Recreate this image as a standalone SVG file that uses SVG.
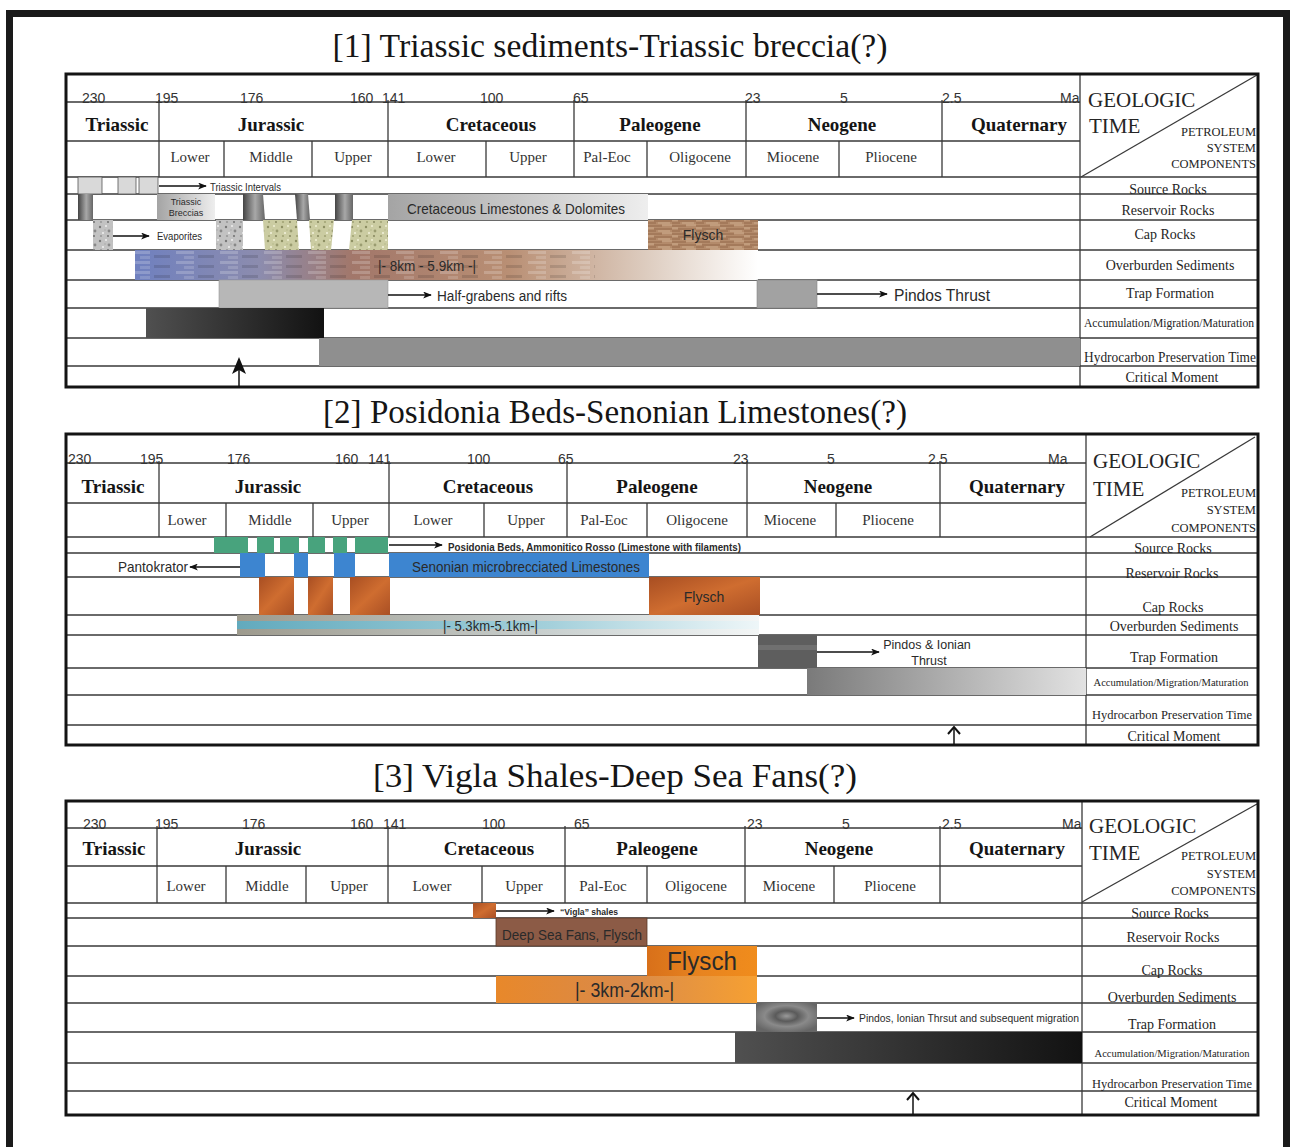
<svg xmlns="http://www.w3.org/2000/svg" width="1290" height="1147" viewBox="0 0 1290 1147">
<style>
.frame{fill:none;stroke:#141414;stroke-width:3}
.ln{stroke:#3a3a3a;stroke-width:1.3;fill:none}
.age{font-family:"Liberation Sans",Arial,sans-serif;font-size:14px;fill:#333}
.per{font-family:"Liberation Serif","Times New Roman",serif;font-weight:bold;font-size:19px;fill:#151515;text-anchor:middle}
.ep{font-family:"Liberation Serif","Times New Roman",serif;font-size:15px;fill:#333;text-anchor:middle}
.lab{font-family:"Liberation Serif","Times New Roman",serif;font-size:14px;fill:#252525;text-anchor:middle}
.geo{font-family:"Liberation Serif","Times New Roman",serif;font-size:21px;fill:#252525}
.psc{font-family:"Liberation Serif","Times New Roman",serif;font-size:12.5px;fill:#252525;text-anchor:end}
.title{font-family:"Liberation Serif","Times New Roman",serif;font-size:34px;fill:#151515;text-anchor:middle}
.sans{font-family:"Liberation Sans",Arial,sans-serif;fill:#2a2a2a}
.conn{stroke:#111;stroke-width:1.5;fill:none}
.bx{stroke:#555;stroke-width:0.8}
</style>
<defs>
<marker id="ah" viewBox="0 0 10 8" refX="9" refY="4" markerWidth="9" markerHeight="7" markerUnits="userSpaceOnUse" orient="auto"><path d="M0,0 L10,4 L0,8 L2.5,4 z" fill="#111"/></marker>
<pattern id="speck" width="14" height="14" patternUnits="userSpaceOnUse"><rect width="14" height="14" fill="#c2c2c2"/><circle cx="2" cy="3" r="1.2" fill="#777"/><circle cx="8" cy="2" r="1" fill="#eee"/><circle cx="11" cy="7" r="1.4" fill="#888"/><circle cx="5" cy="9" r="1" fill="#f0f0f0"/><circle cx="3" cy="12" r="1.1" fill="#999"/><circle cx="10" cy="12" r="0.9" fill="#666"/><circle cx="7" cy="6" r="0.8" fill="#aaa"/></pattern>
<pattern id="speckG" width="14" height="14" patternUnits="userSpaceOnUse"><rect width="14" height="14" fill="#cbcca2"/><circle cx="2" cy="3" r="1.2" fill="#8d8f62"/><circle cx="8" cy="2" r="1" fill="#efefd4"/><circle cx="11" cy="7" r="1.4" fill="#9a9c70"/><circle cx="5" cy="9" r="1" fill="#f2f2dc"/><circle cx="3" cy="12" r="1.1" fill="#a2a476"/><circle cx="10" cy="12" r="0.9" fill="#7d7f56"/><circle cx="7" cy="6" r="0.8" fill="#b5b78a"/></pattern>
<pattern id="wood" width="24" height="8" patternUnits="userSpaceOnUse"><rect width="24" height="8" fill="#b48b6b"/><path d="M0,2 H14 M6,5 H24 M0,7 H8" stroke="#94694a" stroke-width="1"/><path d="M14,1 H24 M0,4 H6 M10,7 H22" stroke="#cfae8e" stroke-width="1"/></pattern>
<pattern id="strip" width="44" height="10" patternUnits="userSpaceOnUse"><rect x="0" y="1" width="18" height="3" fill="#fff" opacity="0.2"/><rect x="22" y="5" width="16" height="3" fill="#000" opacity="0.12"/><rect x="8" y="6" width="10" height="3" fill="#fff" opacity="0.15"/></pattern>
<linearGradient id="cyl" x1="0" y1="0" x2="1" y2="0"><stop offset="0" stop-color="#444"/><stop offset="0.55" stop-color="#a8a8a8"/><stop offset="1" stop-color="#666"/></linearGradient>
<linearGradient id="lgray" x1="0" y1="0" x2="1" y2="0"><stop offset="0" stop-color="#a4a4a4"/><stop offset="1" stop-color="#eeeeee"/></linearGradient>
<linearGradient id="ob1" x1="0" y1="0" x2="1" y2="0"><stop offset="0" stop-color="#6f80bf"/><stop offset="0.2" stop-color="#8c8cae"/><stop offset="0.35" stop-color="#a2776a"/><stop offset="0.6" stop-color="#b98f74"/><stop offset="0.82" stop-color="#ddccbf"/><stop offset="1" stop-color="#ffffff"/></linearGradient>
<linearGradient id="acc1" x1="0" y1="0" x2="1" y2="0"><stop offset="0" stop-color="#505050"/><stop offset="1" stop-color="#121212"/></linearGradient>
<linearGradient id="ob2" x1="0" y1="0" x2="1" y2="0"><stop offset="0" stop-color="#9d9a8d"/><stop offset="0.6" stop-color="#c9d0cf"/><stop offset="1" stop-color="#f3f6f6"/></linearGradient>
<linearGradient id="ob2b" x1="0" y1="0" x2="1" y2="0"><stop offset="0" stop-color="#62aabd"/><stop offset="0.6" stop-color="#a4d0db"/><stop offset="1" stop-color="#eef6f8"/></linearGradient>
<linearGradient id="acc2" x1="0" y1="0" x2="1" y2="0"><stop offset="0" stop-color="#7a7a7a"/><stop offset="1" stop-color="#e2e2e2"/></linearGradient>
<linearGradient id="rust" x1="0" y1="0" x2="1" y2="1"><stop offset="0" stop-color="#a84e22"/><stop offset="0.5" stop-color="#cf6d30"/><stop offset="1" stop-color="#a94f24"/></linearGradient>
<linearGradient id="orng" x1="0" y1="0" x2="1" y2="0"><stop offset="0" stop-color="#d8701a"/><stop offset="0.5" stop-color="#e8841f"/><stop offset="1" stop-color="#f08c1c"/></linearGradient>
<linearGradient id="orng2" x1="0" y1="0" x2="1" y2="0"><stop offset="0" stop-color="#e8882a"/><stop offset="0.5" stop-color="#d98a4a"/><stop offset="1" stop-color="#f6a032"/></linearGradient>
<radialGradient id="swirl" cx="0.5" cy="0.45" r="0.6"><stop offset="0" stop-color="#9a9a9a"/><stop offset="0.3" stop-color="#5a5a5a"/><stop offset="0.6" stop-color="#8a8a8a"/><stop offset="1" stop-color="#666"/></radialGradient>
</defs>

<rect x="9.5" y="13.5" width="1277" height="1200" fill="#fff" stroke="#1a1a1a" stroke-width="7"/>

<!-- ============ PANEL 1 ============ -->
<g id="panel1">
<text class="title" x="610" y="57" textLength="555" lengthAdjust="spacingAndGlyphs">[1] Triassic sediments-Triassic breccia(?)</text>
<g id="p1-grid">
<path class="ln" d="M66,102H1080 M66,141H1080 M66,177H1258 M66,194H1258 M66,220H1258 M66,250H1258 M66,280H1258 M66,308H1258 M66,338H1258 M66,366H1258"/>
<path class="ln" d="M159,100V177 M388,100V177 M574,100V177 M746,100V177 M942,100V177 M224,141V177 M312,141V177 M486,141V177 M647,141V177 M839,141V177 M1080,74V387"/>
<path class="ln" d="M1081,177L1257,75"/>
</g>
<g id="p1-ages">
<text class="age" x="82" y="103">230</text><text class="age" x="155" y="103">195</text><text class="age" x="240" y="103">176</text><text class="age" x="350" y="103">160</text><text class="age" x="382" y="103">141</text><text class="age" x="480" y="103">100</text><text class="age" x="573" y="103">65</text><text class="age" x="745" y="103">23</text><text class="age" x="840" y="103">5</text><text class="age" x="942" y="103">2.5</text><text class="age" x="1060" y="103">Ma</text>
</g>
<g id="p1-periods">
<text class="per" x="117" y="131">Triassic</text><text class="per" x="271" y="131">Jurassic</text><text class="per" x="491" y="131">Cretaceous</text><text class="per" x="660" y="131">Paleogene</text><text class="per" x="842" y="131">Neogene</text><text class="per" x="1019" y="131">Quaternary</text>
<text class="ep" x="190" y="162">Lower</text><text class="ep" x="271" y="162">Middle</text><text class="ep" x="353" y="162">Upper</text><text class="ep" x="436" y="162">Lower</text><text class="ep" x="528" y="162">Upper</text><text class="ep" x="607" y="162">Pal-Eoc</text><text class="ep" x="700" y="162">Oligocene</text><text class="ep" x="793" y="162">Miocene</text><text class="ep" x="891" y="162">Pliocene</text>
</g>
<g id="p1-labels">
<text class="geo" x="1088" y="107">GEOLOGIC</text><text class="geo" x="1089" y="133">TIME</text>
<text class="psc" x="1256" y="136">PETROLEUM</text><text class="psc" x="1256" y="152">SYSTEM</text><text class="psc" x="1256" y="168">COMPONENTS</text>
<text class="lab" x="1168" y="194">Source Rocks</text>
<text class="lab" x="1168" y="215">Reservoir Rocks</text>
<text class="lab" x="1165" y="239">Cap Rocks</text>
<text class="lab" x="1170" y="270">Overburden Sediments</text>
<text class="lab" x="1170" y="298">Trap Formation</text>
<text class="lab" x="1169" y="327" style="font-size:12px" textLength="170" lengthAdjust="spacingAndGlyphs">Accumulation/Migration/Maturation</text>
<text class="lab" x="1170" y="362" textLength="172" lengthAdjust="spacingAndGlyphs">Hydrocarbon Preservation Time</text>
<text class="lab" x="1172" y="382">Critical Moment</text>
</g>
<g id="p1-source">
<rect class="bx" x="78" y="177" width="24" height="17" fill="#d9d9d9"/>
<rect class="bx" x="118" y="177" width="18" height="17" fill="#d9d9d9"/>
<rect class="bx" x="139" y="177" width="19" height="17" fill="#d9d9d9"/>
<text class="sans" x="210" y="191" font-size="10" textLength="71" lengthAdjust="spacingAndGlyphs">Triassic Intervals</text>
</g>
<g id="p1-reservoir">
<rect x="78" y="194" width="15" height="26" fill="url(#cyl)"/>
<rect x="157" y="194" width="58" height="26" fill="url(#lgray)"/>
<text class="sans" x="186" y="205" font-size="9" text-anchor="middle">Triassic</text>
<text class="sans" x="186" y="216" font-size="9" text-anchor="middle">Breccias</text>
<polygon points="243,194 263,194 265,220 243,220" fill="url(#cyl)"/>
<polygon points="295,194 308,194 310,220 297,220" fill="url(#cyl)"/>
<rect x="335" y="194" width="18" height="26" fill="url(#cyl)"/>
<rect x="388" y="194" width="260" height="26" fill="url(#lgray)"/>
<text class="sans" x="407" y="214" font-size="15" textLength="218" lengthAdjust="spacingAndGlyphs" fill="#333">Cretaceous Limestones &amp; Dolomites</text>
</g>
<g id="p1-cap">
<rect x="93" y="220" width="20" height="30" fill="url(#speck)"/>
<text class="sans" x="157" y="240" font-size="10" textLength="45" lengthAdjust="spacingAndGlyphs">Evaporites</text>
<rect x="216" y="220" width="27" height="30" fill="url(#speck)"/>
<polygon points="263,220 297,220 299,250 265,250" fill="url(#speckG)"/>
<polygon points="309,220 334,220 331,250 311,250" fill="url(#speckG)"/>
<polygon points="352,220 388,220 388,250 349,250" fill="url(#speckG)"/>
<rect x="648" y="220" width="110" height="30" fill="url(#wood)"/>
<text class="sans" x="703" y="240" font-size="14" text-anchor="middle" fill="#333">Flysch</text>
</g>
<g id="p1-overburden">
<rect x="135" y="250" width="623" height="30" fill="url(#ob1)"/>
<rect x="135" y="250" width="460" height="30" fill="url(#strip)"/>
<text class="sans" x="378" y="271" font-size="15" textLength="98" lengthAdjust="spacingAndGlyphs" fill="#222">|- 8km - 5.9km -|</text>
</g>
<g id="p1-trap">
<rect x="219" y="280" width="169" height="28" fill="#b7b7b7" stroke="#999" stroke-width="0.6"/>
<text class="sans" x="437" y="301" font-size="14" textLength="130" lengthAdjust="spacingAndGlyphs">Half-grabens and rifts</text>
<rect x="757" y="280" width="60" height="28" fill="#a2a2a2" stroke="#888" stroke-width="0.6"/>
<text class="sans" x="894" y="301" font-size="16" textLength="96" lengthAdjust="spacingAndGlyphs">Pindos Thrust</text>
</g>
<g id="p1-accum"><rect x="146" y="308" width="178" height="30" fill="url(#acc1)"/></g>
<g id="p1-hydro"><rect x="319" y="338" width="761" height="28" fill="#8f8f8f"/></g>
<g id="p1-critical"><polygon points="232,374 239,357 246,374 239,370" fill="#111"/></g>
<rect class="frame" x="66" y="74" width="1192" height="313"/>
</g>

<!-- ============ PANEL 2 ============ -->
<g id="panel2">
<text class="title" x="615" y="423" textLength="584" lengthAdjust="spacingAndGlyphs">[2] Posidonia Beds-Senonian Limestones(?)</text>
<g id="p2-grid">
<path class="ln" d="M66,463H1086 M66,503H1086 M66,537H1258 M66,553H1258 M66,577H1258 M66,615H1258 M66,635H1258 M66,668H1258 M66,695H1258 M66,725H1258"/>
<path class="ln" d="M159,461V537 M389,461V537 M567,461V537 M747,461V537 M940,461V537 M226,503V537 M313,503V537 M484,503V537 M647,503V537 M836,503V537 M1086,434V745"/>
<path class="ln" d="M1090,537L1255,437"/>
</g>
<g id="p2-ages">
<text class="age" x="68" y="464">230</text><text class="age" x="140" y="464">195</text><text class="age" x="227" y="464">176</text><text class="age" x="335" y="464">160</text><text class="age" x="368" y="464">141</text><text class="age" x="467" y="464">100</text><text class="age" x="558" y="464">65</text><text class="age" x="733" y="464">23</text><text class="age" x="827" y="464">5</text><text class="age" x="928" y="464">2.5</text><text class="age" x="1048" y="464">Ma</text>
</g>
<g id="p2-periods">
<text class="per" x="113" y="493">Triassic</text><text class="per" x="268" y="493">Jurassic</text><text class="per" x="488" y="493">Cretaceous</text><text class="per" x="657" y="493">Paleogene</text><text class="per" x="838" y="493">Neogene</text><text class="per" x="1017" y="493">Quaternary</text>
<text class="ep" x="187" y="525">Lower</text><text class="ep" x="270" y="525">Middle</text><text class="ep" x="350" y="525">Upper</text><text class="ep" x="433" y="525">Lower</text><text class="ep" x="526" y="525">Upper</text><text class="ep" x="604" y="525">Pal-Eoc</text><text class="ep" x="697" y="525">Oligocene</text><text class="ep" x="790" y="525">Miocene</text><text class="ep" x="888" y="525">Pliocene</text>
</g>
<g id="p2-labels">
<text class="geo" x="1093" y="468">GEOLOGIC</text><text class="geo" x="1093" y="496">TIME</text>
<text class="psc" x="1256" y="497">PETROLEUM</text><text class="psc" x="1256" y="514">SYSTEM</text><text class="psc" x="1256" y="532">COMPONENTS</text>
<text class="lab" x="1173" y="553">Source Rocks</text>
<text class="lab" x="1172" y="578">Reservoir Rocks</text>
<text class="lab" x="1173" y="612">Cap Rocks</text>
<text class="lab" x="1174" y="631">Overburden Sediments</text>
<text class="lab" x="1174" y="662">Trap Formation</text>
<text class="lab" x="1171" y="686" style="font-size:11px" textLength="155" lengthAdjust="spacingAndGlyphs">Accumulation/Migration/Maturation</text>
<text class="lab" x="1172" y="719" style="font-size:13px" textLength="160" lengthAdjust="spacingAndGlyphs">Hydrocarbon Preservation Time</text>
<text class="lab" x="1174" y="741">Critical Moment</text>
</g>
<g id="p2-source">
<rect x="214" y="537" width="34" height="16" fill="#48a37d"/>
<rect x="257" y="537" width="17" height="16" fill="#48a37d"/>
<rect x="280" y="537" width="19" height="16" fill="#48a37d"/>
<rect x="308" y="537" width="17" height="16" fill="#48a37d"/>
<rect x="333" y="537" width="14" height="16" fill="#48a37d"/>
<rect x="355" y="537" width="33" height="16" fill="#48a37d"/>
<text class="sans" x="448" y="551" font-size="10.5" font-weight="bold" textLength="293" lengthAdjust="spacingAndGlyphs">Posidonia Beds, Ammonitico Rosso (Limestone with filaments)</text>
</g>
<g id="p2-reservoir">
<rect x="240" y="553" width="25" height="24" fill="#3d85d0"/>
<rect x="294" y="553" width="14" height="24" fill="#3d85d0"/>
<rect x="334" y="553" width="21" height="24" fill="#3d85d0"/>
<rect x="389" y="553" width="260" height="24" fill="#3d85d0"/>
<text class="sans" x="412" y="572" font-size="14.5" textLength="228" lengthAdjust="spacingAndGlyphs" fill="#1c2b40">Senonian microbrecciated Limestones</text>
<text class="sans" x="188" y="572" font-size="15" text-anchor="end" textLength="70" lengthAdjust="spacingAndGlyphs">Pantokrator</text>
</g>
<g id="p2-cap">
<rect x="259" y="577" width="35" height="38" fill="url(#rust)"/>
<rect x="308" y="577" width="25" height="38" fill="url(#rust)"/>
<rect x="350" y="577" width="40" height="38" fill="url(#rust)"/>
<rect x="649" y="577" width="111" height="38" fill="url(#rust)"/>
<text class="sans" x="704" y="602" font-size="14" text-anchor="middle" fill="#333">Flysch</text>
</g>
<g id="p2-overburden">
<rect x="237" y="615" width="522" height="20" fill="url(#ob2)"/>
<rect x="237" y="621" width="522" height="8" fill="url(#ob2b)"/>
<text class="sans" x="443" y="631" font-size="14" textLength="95" lengthAdjust="spacingAndGlyphs" fill="#2a2a2a">|- 5.3km-5.1km-|</text>
</g>
<g id="p2-trap">
<rect x="758" y="635" width="59" height="33" fill="#5e5e5e"/>
<rect x="758" y="645" width="59" height="5" fill="#707070"/>
<text class="sans" x="927" y="649" font-size="12.5" text-anchor="middle">Pindos &amp; Ionian</text>
<text class="sans" x="929" y="665" font-size="12.5" text-anchor="middle">Thrust</text>
</g>
<g id="p2-accum"><rect x="807" y="668" width="279" height="27" fill="url(#acc2)"/></g>
<g id="p2-critical"><polyline points="948,734 954,727 960,734" fill="none" stroke="#111" stroke-width="2"/></g>
<rect class="frame" x="66" y="434" width="1192" height="311"/>
</g>

<!-- ============ PANEL 3 ============ -->
<g id="panel3">
<text class="title" x="615" y="787" textLength="484" lengthAdjust="spacingAndGlyphs">[3] Vigla Shales-Deep Sea Fans(?)</text>
<g id="p3-grid">
<path class="ln" d="M66,828H1082 M66,866H1082 M66,903H1258 M66,918H1258 M66,946H1258 M66,976H1258 M66,1003H1258 M66,1032H1258 M66,1063H1258 M66,1091H1258"/>
<path class="ln" d="M157,826V903 M388,826V903 M565,826V903 M745,826V903 M940,826V903 M226,866V903 M306,866V903 M482,866V903 M647,866V903 M834,866V903 M1082,801V1115"/>
<path class="ln" d="M1082,902L1257,804"/>
</g>
<g id="p3-ages">
<text class="age" x="83" y="829">230</text><text class="age" x="155" y="829">195</text><text class="age" x="242" y="829">176</text><text class="age" x="350" y="829">160</text><text class="age" x="383" y="829">141</text><text class="age" x="482" y="829">100</text><text class="age" x="574" y="829">65</text><text class="age" x="747" y="829">23</text><text class="age" x="842" y="829">5</text><text class="age" x="942" y="829">2.5</text><text class="age" x="1062" y="829">Ma</text>
</g>
<g id="p3-periods">
<text class="per" x="114" y="855">Triassic</text><text class="per" x="268" y="855">Jurassic</text><text class="per" x="489" y="855">Cretaceous</text><text class="per" x="657" y="855">Paleogene</text><text class="per" x="839" y="855">Neogene</text><text class="per" x="1017" y="855">Quaternary</text>
<text class="ep" x="186" y="891">Lower</text><text class="ep" x="267" y="891">Middle</text><text class="ep" x="349" y="891">Upper</text><text class="ep" x="432" y="891">Lower</text><text class="ep" x="524" y="891">Upper</text><text class="ep" x="603" y="891">Pal-Eoc</text><text class="ep" x="696" y="891">Oligocene</text><text class="ep" x="789" y="891">Miocene</text><text class="ep" x="890" y="891">Pliocene</text>
</g>
<g id="p3-labels">
<text class="geo" x="1089" y="833">GEOLOGIC</text><text class="geo" x="1089" y="860">TIME</text>
<text class="psc" x="1256" y="860">PETROLEUM</text><text class="psc" x="1256" y="878">SYSTEM</text><text class="psc" x="1256" y="895">COMPONENTS</text>
<text class="lab" x="1170" y="918">Source Rocks</text>
<text class="lab" x="1173" y="942">Reservoir Rocks</text>
<text class="lab" x="1172" y="975">Cap Rocks</text>
<text class="lab" x="1172" y="1002">Overburden Sediments</text>
<text class="lab" x="1172" y="1029">Trap Formation</text>
<text class="lab" x="1172" y="1057" style="font-size:11px" textLength="155" lengthAdjust="spacingAndGlyphs">Accumulation/Migration/Maturation</text>
<text class="lab" x="1172" y="1088" style="font-size:13px" textLength="160" lengthAdjust="spacingAndGlyphs">Hydrocarbon Preservation Time</text>
<text class="lab" x="1171" y="1107">Critical Moment</text>
</g>
<g id="p3-source">
<rect x="473" y="903" width="23" height="15" fill="url(#rust)"/>
<text class="sans" x="560" y="915" font-size="9.5" font-weight="bold" textLength="58" lengthAdjust="spacingAndGlyphs">“Vigla” shales</text>
</g>
<g id="p3-reservoir">
<rect x="496" y="918" width="151" height="28" fill="#8c5b46" stroke="#5a3a2a" stroke-width="0.8"/>
<text class="sans" x="502" y="940" font-size="15" textLength="140" lengthAdjust="spacingAndGlyphs" fill="#3a2a22">Deep Sea Fans, Flysch</text>
</g>
<g id="p3-cap">
<rect x="647" y="946" width="110" height="30" fill="url(#orng)"/>
<text class="sans" x="702" y="970" font-size="26" text-anchor="middle" textLength="70" lengthAdjust="spacingAndGlyphs" fill="#2a1a10">Flysch</text>
</g>
<g id="p3-overburden">
<rect x="496" y="976" width="261" height="27" fill="url(#orng2)"/>
<text class="sans" x="575" y="997" font-size="20" textLength="99" lengthAdjust="spacingAndGlyphs" fill="#2a1a10">|- 3km-2km-|</text>
</g>
<g id="p3-trap">
<rect x="756" y="1003" width="61" height="29" fill="url(#swirl)"/>
<text class="sans" x="859" y="1022" font-size="11.5" textLength="220" lengthAdjust="spacingAndGlyphs">Pindos, Ionian Thrsut and subsequent migration</text>
</g>
<g id="p3-accum"><rect x="735" y="1032" width="347" height="31" fill="url(#acc1)"/></g>
<g id="p3-critical"><polyline points="907,1100 913,1093 919,1100" fill="none" stroke="#111" stroke-width="2"/></g>
<rect class="frame" x="66" y="801" width="1192" height="314"/>
</g>

<!-- ============ CONNECTORS ============ -->
<g id="connectors">
<line class="conn" x1="159" y1="186" x2="206" y2="186" marker-end="url(#ah)"/>
<line class="conn" x1="113" y1="236" x2="149" y2="236" marker-end="url(#ah)"/>
<line class="conn" x1="388" y1="295" x2="431" y2="295" marker-end="url(#ah)"/>
<line class="conn" x1="817" y1="294" x2="887" y2="294" marker-end="url(#ah)"/>
<line class="conn" x1="239" y1="387" x2="239" y2="370"/>
<line class="conn" x1="389" y1="545" x2="442" y2="545" marker-end="url(#ah)"/>
<line class="conn" x1="240" y1="567" x2="190" y2="567" marker-end="url(#ah)"/>
<line class="conn" x1="817" y1="652" x2="879" y2="652" marker-end="url(#ah)"/>
<line class="conn" x1="954" y1="745" x2="954" y2="728"/>
<line class="conn" x1="496" y1="911" x2="554" y2="911" marker-end="url(#ah)"/>
<line class="conn" x1="817" y1="1018" x2="854" y2="1018" marker-end="url(#ah)"/>
<line class="conn" x1="913" y1="1115" x2="913" y2="1094"/>
</g>
</svg>
